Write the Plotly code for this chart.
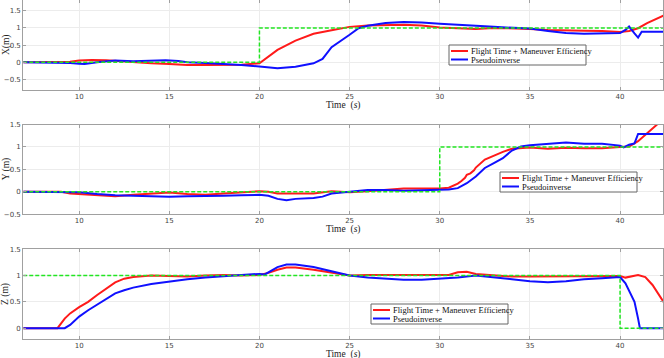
import plotly.graph_objects as go

# reference setpoints
ref_x_t = [6.9, 20, 20, 42.5]
ref_x = [0, 0, 1, 1]
ref_y_t = [6.9, 30, 30, 42.5]
ref_y = [0, 0, 1, 1]
ref_z_t = [6.9, 40, 40, 42.5]
ref_z = [1, 1, 0, 0]

# X position
fx_t = [6.9, 9, 9.5, 10, 10.7, 11.5, 12.3, 13, 14, 15, 16, 17, 18, 19, 20, 21, 22, 23, 24,
        25, 26, 27, 28, 29, 30, 31, 32, 33, 34, 35, 36, 37, 38, 39, 40, 40.5, 41, 41.5, 42, 42.5]
fx = [0, 0, 0.02, 0.05, 0.07, 0.06, 0.03, 0.0, -0.03, -0.05, -0.08, -0.08, -0.08, -0.07, -0.03,
      0.36, 0.63, 0.83, 0.93, 1.03, 1.07, 1.09, 1.09, 1.07, 1.01, 0.99, 0.97, 1.0, 0.99, 0.97,
      0.94, 0.92, 0.92, 0.91, 0.88, 0.91, 0.99, 1.14, 1.25, 1.38]
px_t = [6.9, 9, 9.5, 10, 10.3, 11, 12, 13, 14, 14.8, 15.5, 16, 17, 18, 19, 20, 21, 22, 23, 23.5,
        24, 25, 25.5, 26, 27, 28, 29, 30, 31, 32, 33, 34, 35, 36, 37, 38, 39, 40, 40.3, 40.5,
        40.8, 41.0, 41.2, 42.5]
px = [0, 0, -0.02, -0.04, -0.05, 0.0, 0.05, 0.03, 0.04, 0.06, 0.04, 0.0, -0.02, -0.04, -0.08,
      -0.12, -0.17, -0.13, -0.03, 0.1, 0.44, 0.8, 0.99, 1.06, 1.14, 1.17, 1.16, 1.12, 1.1, 1.06,
      1.03, 1.0, 0.98, 0.91, 0.85, 0.83, 0.83, 0.85, 0.94, 1.04, 0.84, 0.72, 0.89, 0.89]

# Y position
fy_t = [6.9, 9, 9.5, 10.5, 10.8, 12, 13, 14, 15, 16, 17, 18, 19, 20, 20.5, 21, 22, 23, 24, 25,
        26, 27, 28, 29, 30, 30.5, 31, 31.2, 31.4, 31.5, 31.7, 31.9, 32, 32.5, 33, 33.5, 34, 35,
        36, 37, 38, 39, 40, 40.5, 41, 41.5, 42, 42.5]
fy = [0, 0, -0.04, -0.06, -0.08, -0.1, -0.07, -0.04, -0.02, -0.05, -0.07, -0.04, -0.01, 0.01,
      0.0, -0.04, -0.04, -0.04, 0.01, -0.01, 0.01, 0.04, 0.07, 0.07, 0.07, 0.09, 0.18, 0.24,
      0.31, 0.38, 0.41, 0.48, 0.54, 0.72, 0.81, 0.89, 0.96, 0.99, 0.96, 0.98, 0.97, 0.97, 1.0,
      1.01, 1.13, 1.3, 1.49, 1.66]
py_t = [6.9, 9, 10, 11, 12, 13, 14, 15, 16, 17, 18, 19, 20, 20.5, 21, 21.5, 22, 23, 23.5, 24,
        25, 25.5, 26, 27, 28, 29, 30, 30.5, 31, 31.5, 32, 32.5, 33, 33.5, 34, 34.5, 35, 36, 37,
        38, 39, 40, 40.2, 40.5, 40.8, 41, 42.5]
py = [0, 0, -0.01, -0.05, -0.08, -0.09, -0.1, -0.11, -0.1, -0.1, -0.09, -0.08, -0.07, -0.09,
      -0.16, -0.19, -0.16, -0.14, -0.11, -0.04, 0.0, 0.02, 0.04, 0.04, 0.02, 0.03, 0.04, 0.05,
      0.08, 0.19, 0.34, 0.53, 0.64, 0.75, 0.92, 1.01, 1.04, 1.07, 1.1, 1.07, 1.07, 1.03, 0.99,
      1.05, 1.08, 1.29, 1.29]

# Z position
fz_t = [6.9, 8.8, 9.2, 9.5, 10, 10.5, 11, 11.5, 12, 12.5, 13, 14, 15, 16, 17, 18, 19, 20, 20.5,
        21, 21.5, 22, 23, 24, 25, 26, 27, 28, 29, 30, 30.5, 31, 31.5, 32, 33, 34, 35, 36, 37,
        38, 39, 40, 40.3, 40.8, 41, 41.4, 41.8, 42.5]
fz = [0, 0, 0.18, 0.28, 0.4, 0.5, 0.63, 0.75, 0.87, 0.94, 0.97, 1.0, 0.99, 0.98, 1.0, 1.01,
      1.0, 1.01, 1.05, 1.11, 1.15, 1.15, 1.11, 1.06, 1.0, 1.01, 1.01, 1.01, 1.01, 1.01, 1.01,
      1.06, 1.07, 1.03, 1.0, 0.98, 0.98, 0.98, 0.98, 0.98, 0.98, 0.99, 0.96, 0.99, 1.01, 0.97,
      0.82, 0.45]
pz_t = [6.9, 9.2, 9.5, 10, 10.5, 11, 11.5, 12, 12.5, 13, 14, 15, 16, 17, 18, 19, 20, 20.3, 21,
        21.5, 22, 23, 24, 25, 26, 27, 28, 29, 30, 31, 32, 33, 34, 35, 36, 37, 38, 39, 40, 40.3,
        40.6, 40.8, 41, 41.1, 42.5]
pz = [0, 0, 0.06, 0.22, 0.34, 0.45, 0.56, 0.66, 0.72, 0.77, 0.84, 0.89, 0.93, 0.96, 0.99, 1.01,
      1.03, 1.02, 1.16, 1.21, 1.21, 1.16, 1.08, 1.0, 0.96, 0.94, 0.92, 0.92, 0.94, 0.96, 1.0,
      0.97, 0.93, 0.89, 0.87, 0.89, 0.93, 0.95, 0.97, 0.85, 0.63, 0.5, 0.18, 0.0, 0.0]

names = ['Flight Time + Maneuver Efficiency', 'Pseudoinverse']
y_titles = ['X(m)', 'Y (m)', 'Z (m)']
x_ticks = [10, 15, 20, 25, 30, 35, 40]
y_ticks = [-0.5, 0, 0.5, 1, 1.5]

RED = '#ff1a1a'
BLUE = '#1010ff'
GREEN = '#22e622'
W, H = 664, 358


def pxx(v):
    return v / W


def pxy(v):
    return 1 - v / H


# (data..., y range, y domain, legend box left/top in pixels)
panels = [
    (fx_t, fx, px_t, px, ref_x_t, ref_x, [-0.8, 1.8], [0.749, 0.999], (449, 45)),
    (fy_t, fy, py_t, py, ref_y_t, ref_y, [-0.5, 1.5], [0.402, 0.652], (500, 172)),
    (fz_t, fz, pz_t, pz, ref_z_t, ref_z, [-0.2, 1.5], [0.054, 0.304], (371, 304)),
]

fig = go.Figure()
layout = dict(
    width=W, height=H,
    margin=dict(l=0, r=0, t=0, b=0),
    paper_bgcolor='white', plot_bgcolor='white',
    font=dict(family='Liberation Serif', color='#222'),
    showlegend=False,
)
annotations = []
shapes = []
for i, (ft, fv, pt, pv, rt, rv, yr, dom, lbox) in enumerate(panels):
    n = '' if i == 0 else str(i + 1)
    xa, ya = 'x' + n, 'y' + n
    fig.add_trace(go.Scatter(x=ft, y=fv, mode='lines', name=names[0],
                             line=dict(color=RED, width=2), xaxis=xa, yaxis=ya))
    fig.add_trace(go.Scatter(x=pt, y=pv, mode='lines', name=names[1],
                             line=dict(color=BLUE, width=2), xaxis=xa, yaxis=ya))
    fig.add_trace(go.Scatter(x=rt, y=rv, mode='lines', name='Reference',
                             line=dict(color=GREEN, width=1.5, dash='4px,2px'),
                             xaxis=xa, yaxis=ya))
    axis_common = dict(showline=True, linecolor='#a0a0a0', linewidth=1, mirror='ticks',
                       ticks='inside', ticklen=3, tickcolor='#a0a0a0', automargin=False,
                       showgrid=True, gridcolor='#ececec', gridwidth=1, zeroline=False,
                       tickfont=dict(family='DejaVu Sans', size=7, color='#444'))
    layout['xaxis' + n] = dict(axis_common, domain=[0.035, 0.999], range=[6.9, 42.4],
                               tickvals=x_ticks, anchor=ya)
    layout['yaxis' + n] = dict(axis_common, domain=dom, range=yr, tickvals=y_ticks,
                               anchor=xa)
    annotations.append(dict(text='Time  (<i>s</i>)', xref='paper', yref='paper',
                            x=0.517, y=dom[0] - 15.5 / H, xanchor='center', yanchor='middle',
                            showarrow=False, font=dict(size=9.5, color='#222')))
    annotations.append(dict(text=y_titles[i], xref='paper', yref='paper', textangle=-90,
                            x=pxx(6), y=(dom[0] + dom[1]) / 2, xanchor='center',
                            yanchor='middle', showarrow=False,
                            font=dict(size=9.5, color='#222')))
    # legend box
    lx, ly = lbox
    shapes.append(dict(type='rect', xref='paper', yref='paper',
                       x0=pxx(lx), x1=pxx(lx + 137), y0=pxy(ly), y1=pxy(ly + 20),
                       line=dict(color='#666', width=1), fillcolor='white', layer='above'))
    for k, col in enumerate([RED, BLUE]):
        yy = ly + 6 + k * 8.5
        shapes.append(dict(type='line', xref='paper', yref='paper',
                           x0=pxx(lx + 2), x1=pxx(lx + 19), y0=pxy(yy), y1=pxy(yy),
                           line=dict(color=col, width=2), layer='above'))
        annotations.append(dict(text=names[k], xref='paper', yref='paper',
                                x=pxx(lx + 20), y=pxy(yy), xanchor='left', yanchor='middle',
                                showarrow=False,
                                font=dict(family='Liberation Serif', size=8.5, color='#111')))
layout['annotations'] = annotations
layout['shapes'] = shapes
fig.update_layout(**layout)
fig.write_html("out.html", config={'displayModeBar': False},
               post_script="document.body.style.margin='0';")
